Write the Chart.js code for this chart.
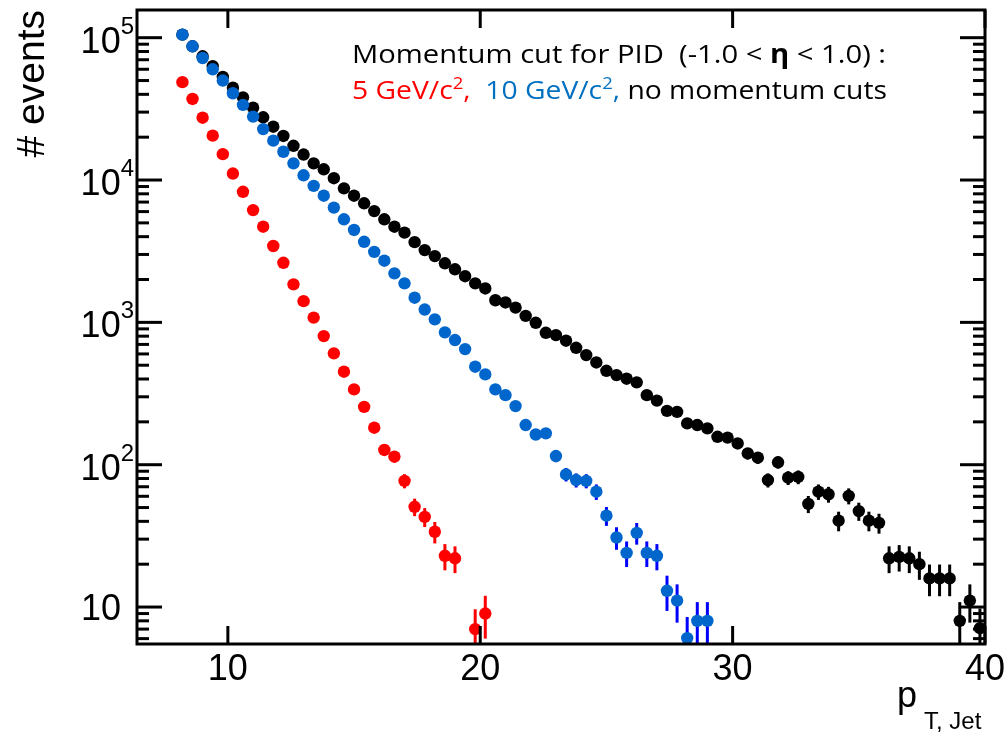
<!DOCTYPE html>
<html>
<head>
<meta charset="utf-8">
<script src="https://cdn.jsdelivr.net/npm/chart.js@4.4.0/dist/chart.umd.min.js"></script>
<style>
html,body{margin:0;padding:0;background:#ffffff;}
#wrap{width:1008px;height:736px;position:relative;}
</style>
</head>
<body>
<div id="wrap"><canvas id="c"></canvas></div>
<script>
// ---- data (bin centres in p_T,Jet, width 0.4) ----
const binCenters = [
  8.2, 8.6, 9.0, 9.4, 9.8, 10.2, 10.6, 11.0, 11.4, 11.8,
  12.2, 12.6, 13.0, 13.4, 13.8, 14.2, 14.6, 15.0, 15.4, 15.8,
  16.2, 16.6, 17.0, 17.4, 17.8, 18.2, 18.6, 19.0, 19.4, 19.8,
  20.2, 20.6, 21.0, 21.4, 21.8, 22.2, 22.6, 23.0, 23.4, 23.8,
  24.2, 24.6, 25.0, 25.4, 25.8, 26.2, 26.6, 27.0, 27.4, 27.8,
  28.2, 28.6, 29.0, 29.4, 29.8, 30.2, 30.6, 31.0, 31.4, 31.8,
  32.2, 32.6, 33.0, 33.4, 33.8, 34.2, 34.6, 35.0, 35.4, 35.8,
  36.2, 36.6, 37.0, 37.4, 37.8, 38.2, 38.6, 39.0, 39.4, 39.8
];
// no momentum cuts (black)
const noCut = [
  105000, 87000, 74000, 63000, 53000, 44500, 38100, 32200, 27600, 23700,
  20400, 17400, 15100, 13100, 11900, 10300, 8740, 7760, 6860, 6050,
  5300, 4700, 4270, 3660, 3220, 2920, 2600, 2360, 2110, 1880,
  1730, 1430, 1380, 1270, 1110, 993, 845, 814, 743, 663,
  589, 523, 457, 426, 402, 379, 308, 282, 239, 235,
  195, 190, 180, 157, 155, 141, 120, 112, 78, 104,
  81, 82, 53, 64.6, 62, 40.4, 60.4, 47.2, 40.4, 39,
  22, 22.5, 22, 20, 15.9, 15.9, 15.9, 8.0, 11.1, 7.1
];
// 10 GeV/c^2 cut (blue)
const cut10 = [
  105000, 87000, 72000, 60000, 50000, 40700, 33700, 27900, 22800, 18900,
  15800, 13100, 10800, 9100, 7760, 6400, 5300, 4460, 3680, 3130,
  2710, 2210, 1880, 1490, 1230, 1050, 851, 751, 649, 488,
  431, 338, 308, 258, 190, 163, 166, 115, 85.5, 78,
  77, 64.6, 43.8, 30.8, 24, 33.2, 24, 22.9, 13.0, 11.1,
  6.05, 8.0, 8.0
];
// 5 GeV/c^2 cut (red)
const cut5 = [
  48700, 37100, 27400, 20500, 15200, 11100, 8270, 6150, 4700, 3440,
  2620, 1850, 1410, 1080, 801, 606, 450, 338, 255, 182,
  127, 114, 77, 50.6, 43, 33.8, 22.9, 22, null, 7.0,
  9.0
];
const xTickValues = [10, 20, 30, 40];
const xTickLabels = ['10', '20', '30', '40'];
const yDecades = [1, 2, 3, 4, 5];           // 10^1 .. 10^5
const yTickLabels = ['10', '10', '10', '10', '10'];
const yTickExponents = ['', '2', '3', '4', '5'];
const xTitle = 'p';
const xTitleSub = 'T, Jet';
const yTitle = '# events';

function toPoints(vals) {
  const out = [];
  vals.forEach((v, i) => { if (v !== null && v !== undefined) out.push({x: binCenters[i], y: v}); });
  return out;
}

const errorBarPlugin = {
  id: 'errbars',
  beforeDatasetsDraw(chart) {
    const ctx = chart.ctx, a = chart.chartArea;
    const xs = chart.scales.x, ys = chart.scales.y;
    ctx.save();
    ctx.beginPath(); ctx.rect(a.left, a.top, a.right - a.left, a.bottom - a.top); ctx.clip();
    chart.data.datasets.forEach(ds => {
      ctx.strokeStyle = ds.errColor; ctx.lineWidth = 3;
      ds.data.forEach(p => {
        const e = Math.sqrt(p.y);
        const px = xs.getPixelForValue(p.x);
        const lo = p.y - e;
        const yHi = ys.getPixelForValue(p.y + e);
        const yLo = lo > ys.min ? ys.getPixelForValue(lo) : a.bottom + 5;
        ctx.beginPath(); ctx.moveTo(px, yHi); ctx.lineTo(px, yLo); ctx.stroke();
      });
    });
    ctx.restore();
  }
};

const framePlugin = {
  id: 'frame',
  afterDraw(chart) {
    const ctx = chart.ctx, a = chart.chartArea;
    const xs = chart.scales.x, ys = chart.scales.y;
    ctx.save();
    ctx.strokeStyle = '#000'; ctx.fillStyle = '#000';
    ctx.lineWidth = 3;
    ctx.strokeRect(a.left, a.top, a.right - a.left, a.bottom - a.top);
    // y ticks
    ctx.lineWidth = 3;
    for (let d = 0; d <= 5; d++) {
      for (let m = 1; m <= 9; m++) {
        const v = m * Math.pow(10, d);
        if (v < ys.min || v > ys.max) continue;
        const py = ys.getPixelForValue(v);
        const len = m === 1 ? 25 : 12;
        ctx.beginPath(); ctx.moveTo(a.left, py); ctx.lineTo(a.left + len, py); ctx.stroke();
        ctx.beginPath(); ctx.moveTo(a.right, py); ctx.lineTo(a.right - len, py); ctx.stroke();
      }
    }
    // x ticks
    xTickValues.forEach(v => {
      const px = xs.getPixelForValue(v);
      ctx.beginPath(); ctx.moveTo(px, a.bottom); ctx.lineTo(px, a.bottom - 18); ctx.stroke();
      ctx.beginPath(); ctx.moveTo(px, a.top); ctx.lineTo(px, a.top + 18); ctx.stroke();
    });
    // x tick labels
    ctx.font = '36px "Liberation Sans", Arial, sans-serif';
    ctx.textAlign = 'center'; ctx.textBaseline = 'alphabetic';
    xTickValues.forEach((v, i) => {
      ctx.fillText(xTickLabels[i], xs.getPixelForValue(v), a.bottom + 36);
    });
    // y tick labels
    yDecades.forEach((d, i) => {
      const py = ys.getPixelForValue(Math.pow(10, d));
      const ex = yTickExponents[i];
      if (ex === '') {
        ctx.font = '36px "Liberation Sans", Arial, sans-serif';
        ctx.textAlign = 'right';
        ctx.fillText(yTickLabels[i], 121, py + 13);
      } else {
        ctx.font = '24px "Liberation Sans", Arial, sans-serif';
        ctx.textAlign = 'right';
        ctx.fillText(ex, 134, py - 4);
        const w = ctx.measureText(ex).width;
        ctx.font = '36px "Liberation Sans", Arial, sans-serif';
        ctx.fillText(yTickLabels[i], 134 - w, py + 15);
      }
    });
    // y title
    ctx.save();
    ctx.translate(44, 10);
    ctx.rotate(-Math.PI / 2);
    ctx.font = '39px "Liberation Sans", Arial, sans-serif';
    ctx.textAlign = 'right';
    ctx.fillText(yTitle, 0, 0);
    ctx.restore();
    // x title
    ctx.textAlign = 'left';
    ctx.font = '36px "Liberation Sans", Arial, sans-serif';
    ctx.fillText(xTitle, 897, 707);
    ctx.font = '24px "Liberation Sans", Arial, sans-serif';
    ctx.fillText(xTitleSub, 924, 729);

    // annotation text
    drawRichLine(ctx, [
      {t: 'Momentum cut for PID  (-1.0 < ', c: '#000'},
      {t: '\u03B7', c: '#000', b: true},
      {t: ' < 1.0) :', c: '#000'}
    ], 352, 63, 534);
    drawRichLine(ctx, [
      {t: '5 GeV/c', c: '#ff0000'},
      {t: '2', c: '#ff0000', sup: true},
      {t: ',  ', c: '#ff0000'},
      {t: '10 GeV/c', c: '#0070c0'},
      {t: '2', c: '#0070c0', sup: true},
      {t: ',', c: '#0070c0'},
      {t: ' no momentum cuts', c: '#000'}
    ], 352, 99, 535);
    ctx.restore();
  }
};

function segFont(s) {
  const size = s.sup ? 17 : 26;
  return (s.b ? 'bold ' : '') + size + 'px "Open Sans", "Noto Sans", sans-serif';
}
function drawRichLine(ctx, segs, x0, base, target) {
  let total = 0;
  segs.forEach(s => { ctx.font = segFont(s); s.w = ctx.measureText(s.t).width; total += s.w; });
  const sx = target / total;
  ctx.save();
  ctx.translate(x0, base);
  ctx.scale(sx, 1);
  ctx.textAlign = 'left'; ctx.textBaseline = 'alphabetic';
  let x = 0;
  segs.forEach(s => {
    ctx.font = segFont(s); ctx.fillStyle = s.c;
    ctx.fillText(s.t, x, s.sup ? -10 : 0);
    x += s.w;
  });
  ctx.restore();
}

new Chart(document.getElementById('c'), {
  type: 'scatter',
  data: {
    datasets: [
      {label: '10 GeV/c2', data: toPoints(cut10), backgroundColor: '#0066cc', errColor: '#0000ff', order: 0},
      {label: '5 GeV/c2', data: toPoints(cut5), backgroundColor: '#ff0000', errColor: '#ff0000', order: 1},
      {label: 'no momentum cuts', data: toPoints(noCut), backgroundColor: '#000000', errColor: '#000000', order: 2}
    ]
  },
  options: {
    responsive: true,
    maintainAspectRatio: false,
    devicePixelRatio: 1,
    animation: false,
    layout: {padding: {left: 137, right: 23, top: 10, bottom: 92}},
    elements: {point: {radius: 6.2, borderWidth: 0, hoverRadius: 6.2}},
    scales: {
      x: {type: 'linear', min: 6.4, max: 40, display: false},
      y: {type: 'logarithmic', min: 5.5, max: 156500, display: false}
    },
    plugins: {legend: {display: false}, tooltip: {enabled: false}}
  },
  plugins: [errorBarPlugin, framePlugin]
});
</script>
</body>
</html>
